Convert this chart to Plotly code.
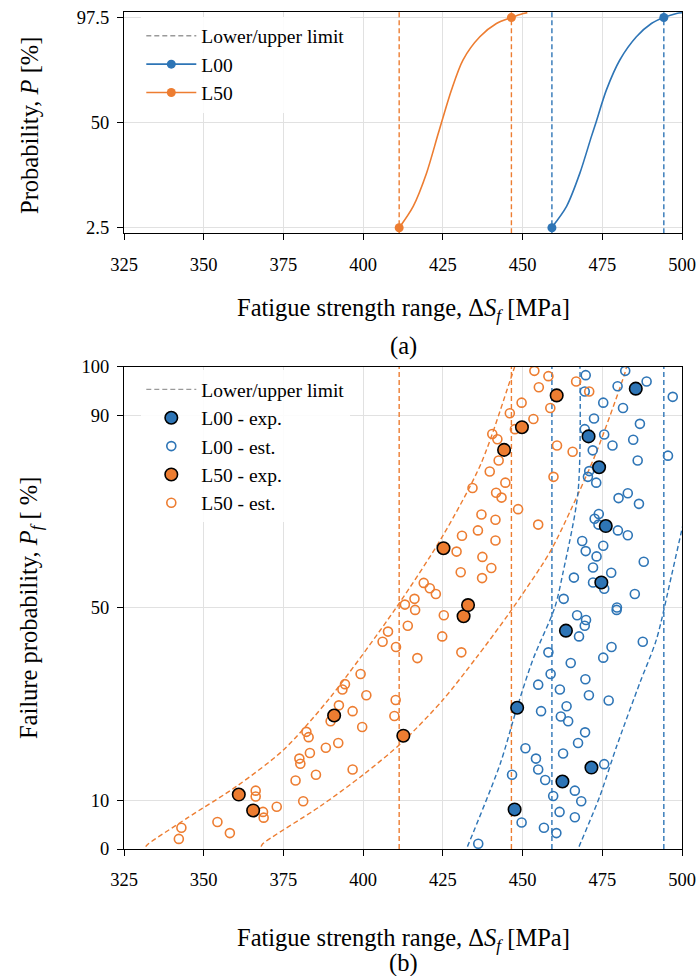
import plotly.graph_objects as go

BLUE = "#2E75B6"
ORANGE = "#ED7D31"
GREY = "#9a9a9a"
GRID = "#e1e1e1"
FONT = "Liberation Serif"
DASH = "5px,3px"

# ---- (a) cumulative probability of the fatigue strength range ----
l00_cdf_s = [459.1, 463.8, 468.0, 471.6, 473.0, 476.3, 480.5, 485.7, 490.4, 494.3, 498.3, 500.5]
l00_cdf_p = [2.5, 12.2, 27.3, 43.8, 50.0, 64.8, 78.3, 88.8, 94.8, 97.5, 99.3, 99.7]
l50_cdf_s = [411.3, 415.7, 419.9, 423.6, 427.7, 431.3, 436.6, 441.8, 446.5, 450.2, 451.5]
l50_cdf_p = [2.5, 12.2, 27.3, 45.3, 64.8, 78.3, 88.8, 94.8, 97.5, 99.3, 99.7]

# lower / upper limits (2.5 % and 97.5 % quantiles)
l00_limits = [459.2, 494.3]
l50_limits = [411.3, 446.5]
limit_p = [2.5, 97.5]

# ---- (b) failure probability ----
l00_exp_s = [485.5, 470.7, 474.0, 476.1, 474.7, 463.6, 448.3, 471.6, 462.5, 447.5]
l00_exp_p = [95.5, 85.6, 79.2, 67.0, 55.3, 45.3, 29.3, 16.9, 14.0, 8.2]
l50_exp_s = [361.0, 365.5, 390.9, 412.6, 431.5, 432.9, 425.2, 444.2, 449.8, 460.7]
l50_exp_p = [11.3, 8.0, 27.7, 23.5, 48.3, 50.6, 62.4, 82.8, 87.5, 94.1]

l00_est_s = [469.8, 482.2, 479.8, 488.9, 497.1, 469.5, 475.3, 481.5, 472.4, 486.8,
             469.5, 475.6, 478.2, 484.7, 472.0, 486.1, 495.6, 470.9, 470.5, 473.1,
             480.1, 483.0, 486.5, 473.9, 472.6, 473.8, 479.9, 483.0, 468.7, 475.3,
             469.8, 473.2, 488.0, 472.1, 477.8, 466.1, 472.1, 475.6, 462.9, 485.2,
             479.6, 479.5, 467.1, 469.9, 469.5, 467.7, 487.7, 477.9, 475.3, 458.1,
             465.1, 458.8, 469.7, 454.9, 461.7, 470.8, 477.0, 463.8, 455.8, 462.0,
             464.3, 469.6, 467.4, 450.9, 462.7, 454.2, 454.9, 475.6, 446.7, 457.1,
             466.4, 459.6, 468.4, 461.6, 466.4, 449.7, 456.7, 460.6, 436.1]
l00_est_p = [98.3, 99.2, 96.0, 97.0, 93.8, 94.9, 92.6, 91.5, 89.3, 88.2,
             87.1, 86.0, 83.7, 84.9, 82.7, 80.6, 81.6, 78.4, 77.2, 76.0,
             72.8, 73.8, 71.6, 69.5, 68.5, 67.3, 66.1, 65.1, 63.9, 62.9,
             61.8, 60.7, 59.6, 58.4, 57.3, 56.3, 55.3, 54.0, 51.9, 52.9,
             50.1, 49.6, 48.5, 47.5, 46.3, 44.1, 43.0, 41.9, 39.7, 40.8,
             38.6, 36.3, 35.2, 34.1, 33.1, 31.9, 30.8, 29.6, 28.6, 27.5,
             26.5, 24.2, 22.0, 20.9, 19.8, 18.75, 16.5, 17.6, 15.4, 14.3,
             12.1, 11.0, 9.9, 7.7, 6.6, 5.5, 4.4, 3.3, 1.1]

l50_est_s = [343.0, 342.2, 354.3, 358.2, 366.3, 366.3, 368.6, 368.8, 372.9, 381.2,
             378.8, 380.0, 380.3, 383.3, 385.2, 382.2, 382.9, 388.3, 389.8,
             392.4, 392.2, 396.7, 399.7, 396.7, 401.0, 393.5, 394.3, 399.2, 406.1,
             407.8, 410.3, 410.2, 409.8, 417.0, 414.0, 413.1, 416.3, 416.1, 425.3,
             424.8, 430.8,
             434.3, 437.1, 436.0, 441.5, 441.5, 431.0, 429.3, 437.4, 440.2, 430.6,
             437.3, 419.0, 420.9, 422.8, 439.7, 441.7, 443.4, 444.6, 442.5, 440.5,
             442.1, 446.0,
             453.7, 458.1, 455.1, 466.8, 470.9, 449.7, 458.7, 453.4, 447.6, 460.8,
             465.7, 459.7, 448.6, 454.9]
l50_est_p = [4.4, 2.1, 5.6, 3.3, 12.1, 10.9, 7.7, 6.5, 8.75, 9.9,
             14.2, 18.75, 17.7, 19.9, 15.4, 24.3, 23.2, 21.0, 26.5,
             29.8, 22.0, 28.6, 25.3, 16.5, 31.9, 33.1, 34.2, 36.3, 43.0,
             45.1, 41.9, 30.9, 27.6, 39.6, 46.3, 50.7, 49.6, 51.9, 48.5,
             44.1, 40.8,
             74.9, 69.4, 66.1, 68.3, 64.0, 65.0, 61.7, 60.6, 58.3, 57.4,
             56.2, 55.2, 54.1, 52.9, 78.3, 73.9, 72.9, 76.0, 80.6, 86.1,
             85.0, 90.4,
             99.2, 98.1, 95.8, 97.0, 94.9, 92.6, 91.5, 89.2, 87.1, 83.7,
             82.4, 77.2, 70.5, 67.3]

# lower / upper bounds of the estimated failure probability
l50_lo_s = [331.8, 332.5, 345.0, 360.3, 374.9, 389.5, 410.4, 425.1, 437.0, 446.0, 447.5]
l50_lo_p = [0.5, 1.0, 6.5, 13.0, 20.5, 31.3, 50.1, 65.1, 80.0, 97.0, 100.0]
l50_hi_s = [368.0, 368.4, 386.4, 400.0, 412.5, 425.1, 435.5, 446.0, 458.5, 465.3, 473.2, 482.1, 482.6]
l50_hi_p = [0.5, 1.0, 8.8, 15.4, 22.3, 31.0, 39.7, 49.1, 61.5, 70.6, 82.4, 98.75, 100.0]
l00_lo_s = [432.7, 432.9, 442.9, 448.1, 453.3, 460.1, 462.7, 467.4, 468.0]
l00_lo_p = [0.5, 0.8, 17.5, 29.0, 39.4, 50.1, 57.4, 74.1, 100.0]
l00_hi_s = [467.7, 467.9, 474.2, 479.5, 486.8, 492.0, 496.7, 499.8, 502.0]
l00_hi_p = [0.5, 0.8, 10.9, 21.3, 34.5, 43.5, 56.7, 65.8, 72.0]

ticks_s = [325, 350, 375, 400, 425, 450, 475, 500]
ticks_a = [2.5, 50, 97.5]
ticks_b = [0, 10, 50, 90, 100]


def vlines(vals):
    xs, ys = [], []
    for v in vals:
        xs += [v, v, None]
        ys += [0, 100, None]
    return xs, ys


fig = go.Figure()

# ---------- panel (a) ----------
for lim, col in ((l50_limits, ORANGE), (l00_limits, BLUE)):
    xs, ys = vlines(lim)
    fig.add_trace(go.Scatter(x=xs, y=ys, mode="lines", showlegend=False,
                             line=dict(color=col, width=1.4, dash=DASH),
                             xaxis="x", yaxis="y", hoverinfo="skip"))

for s, p, lim, col in ((l00_cdf_s, l00_cdf_p, l00_limits, BLUE),
                       (l50_cdf_s, l50_cdf_p, l50_limits, ORANGE)):
    fig.add_trace(go.Scatter(x=s, y=p, mode="lines", showlegend=False,
                             line=dict(color=col, width=1.6, shape="spline", smoothing=0.8),
                             xaxis="x", yaxis="y"))
    fig.add_trace(go.Scatter(x=lim, y=limit_p, mode="markers", showlegend=False,
                             marker=dict(color=col, size=9),
                             xaxis="x", yaxis="y"))

fig.add_trace(go.Scatter(x=[None], y=[None], mode="lines", name="Lower/upper limit",
                         line=dict(color=GREY, width=1.4, dash=DASH),
                         legend="legend", legendgroup="a1", legendrank=1, xaxis="x", yaxis="y"))
fig.add_trace(go.Scatter(x=[None], y=[None], mode="lines+markers", name="L00",
                         line=dict(color=BLUE, width=1.6), marker=dict(color=BLUE, size=9),
                         legend="legend", legendgroup="a2", legendrank=2, xaxis="x", yaxis="y"))
fig.add_trace(go.Scatter(x=[None], y=[None], mode="lines+markers", name="L50",
                         line=dict(color=ORANGE, width=1.6), marker=dict(color=ORANGE, size=9),
                         legend="legend", legendgroup="a3", legendrank=3, xaxis="x", yaxis="y"))

# ---------- panel (b) ----------
for lim, col in ((l50_limits, ORANGE), (l00_limits, BLUE)):
    xs, ys = vlines(lim)
    fig.add_trace(go.Scatter(x=xs, y=ys, mode="lines", showlegend=False,
                             line=dict(color=col, width=1.4, dash=DASH),
                             xaxis="x2", yaxis="y2", hoverinfo="skip"))

for s, p, col in ((l50_lo_s, l50_lo_p, ORANGE), (l50_hi_s, l50_hi_p, ORANGE),
                  (l00_lo_s, l00_lo_p, BLUE), (l00_hi_s, l00_hi_p, BLUE)):
    fig.add_trace(go.Scatter(x=s, y=p, mode="lines", showlegend=False,
                             line=dict(color=col, width=1.4, dash=DASH, shape="spline", smoothing=0.8),
                             xaxis="x2", yaxis="y2", hoverinfo="skip"))

fig.add_trace(go.Scatter(x=[None], y=[None], mode="lines", name="Lower/upper limit",
                         line=dict(color=GREY, width=1.4, dash=DASH),
                         legend="legend2", legendgroup="b1", legendrank=1,
                         xaxis="x2", yaxis="y2"))
fig.add_trace(go.Scatter(x=l00_est_s, y=l00_est_p, mode="markers", name="L00 - est.",
                         marker=dict(symbol="circle-open", color=BLUE, size=9,
                                     line=dict(width=1.6, color=BLUE)),
                         legend="legend2", legendgroup="b3", legendrank=3,
                         xaxis="x2", yaxis="y2"))
fig.add_trace(go.Scatter(x=l50_est_s, y=l50_est_p, mode="markers", name="L50 - est.",
                         marker=dict(symbol="circle-open", color=ORANGE, size=9,
                                     line=dict(width=1.6, color=ORANGE)),
                         legend="legend2", legendgroup="b5", legendrank=5,
                         xaxis="x2", yaxis="y2"))
fig.add_trace(go.Scatter(x=l00_exp_s, y=l00_exp_p, mode="markers", name="L00 - exp.",
                         marker=dict(color=BLUE, size=12.5, line=dict(width=1.6, color="black")),
                         legend="legend2", legendgroup="b2", legendrank=2,
                         xaxis="x2", yaxis="y2"))
fig.add_trace(go.Scatter(x=l50_exp_s, y=l50_exp_p, mode="markers", name="L50 - exp.",
                         marker=dict(color=ORANGE, size=12.5, line=dict(width=1.6, color="black")),
                         legend="legend2", legendgroup="b4", legendrank=4,
                         xaxis="x2", yaxis="y2"))

# ---------- layout ----------
tick_font = dict(family=FONT, size=18.5, color="black")
axis_common = dict(
    range=[325, 500], tickvals=ticks_s, showgrid=True, gridcolor=GRID, gridwidth=1.3,
    showline=True, linecolor="black", linewidth=1.3, mirror=True,
    ticks="outside", ticklen=6, tickwidth=1.3, tickcolor="black",
    tickfont=tick_font, zeroline=False, ticklabelstandoff=8, automargin=False,
)
yaxis_common = dict(
    range=[0, 100], showgrid=True, gridcolor=GRID, gridwidth=1.3,
    showline=True, linecolor="black", linewidth=1.3, mirror=True,
    ticks="outside", ticklen=6, tickwidth=1.3, tickcolor="black",
    tickfont=tick_font, zeroline=False, ticklabelstandoff=4, automargin=False,
)

TOP_A = 1.0
BOT_A = 0.7356
TOP_B = 0.5759

legend_common = dict(xanchor="left", yanchor="top",
                     bgcolor="rgba(255,255,255,0.9)", borderwidth=0,
                     font=dict(family=FONT, size=19.5, color="black"), itemwidth=50,
                     traceorder="grouped", tracegroupgap=0)

fig.update_layout(
    template="none",
    width=700, height=976,
    margin=dict(l=124, r=18, t=12, b=127, autoexpand=False),
    paper_bgcolor="white", plot_bgcolor="white",
    font=dict(family=FONT, size=18, color="black"),
    xaxis=dict(axis_common, anchor="y", domain=[0, 1]),
    yaxis=dict(yaxis_common, anchor="x", domain=[BOT_A, TOP_A],
               tickvals=ticks_a, ticktext=["2.5", "50", "97.5"]),
    xaxis2=dict(axis_common, anchor="y2", domain=[0, 1]),
    yaxis2=dict(yaxis_common, anchor="x2", domain=[0, TOP_B], tickvals=ticks_b),
    legend=dict(legend_common, x=0.031, y=0.9945),
    legend2=dict(legend_common, x=0.031, y=0.572),
    showlegend=True,
)

title_font = dict(family=FONT, size=24.5, color="black")
xtitle = "Fatigue strength range, Δ<i>S</i><sub><i>f</i></sub> [MPa]"
fig.add_annotation(text=xtitle, x=0.5, y=0.644, xref="paper", yref="paper",
                   showarrow=False, font=title_font, xanchor="center", yanchor="middle")
fig.add_annotation(text="(a)", x=0.5, y=0.601, xref="paper", yref="paper",
                   showarrow=False, font=title_font, xanchor="center", yanchor="middle")
fig.add_annotation(text=xtitle, x=0.5, y=-0.1087, xref="paper", yref="paper",
                   showarrow=False, font=title_font, xanchor="center", yanchor="middle")
fig.add_annotation(text="(b)", x=0.5, y=-0.1362, xref="paper", yref="paper",
                   showarrow=False, font=title_font, xanchor="center", yanchor="middle")
fig.add_annotation(text="Probability, <i>P</i> [%]", x=-0.1685, y=0.865,
                   xref="paper", yref="paper", showarrow=False, textangle=-90,
                   font=title_font, xanchor="center", yanchor="middle")
fig.add_annotation(text="Failure probability, <i>P</i><sub><i>f</i></sub> [ %]", x=-0.1685, y=0.2879,
                   xref="paper", yref="paper", showarrow=False, textangle=-90,
                   font=title_font, xanchor="center", yanchor="middle")

fig.write_html("out.html")
